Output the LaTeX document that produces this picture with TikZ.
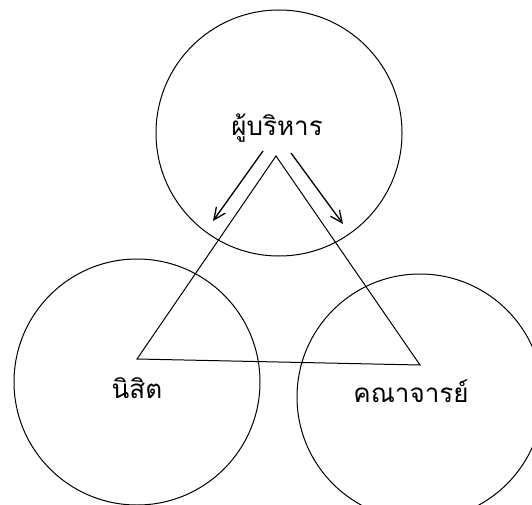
\documentclass[tikz,border=0pt]{standalone}
\usepackage{fontspec}
\newfontfamily\thaifont[Script=Thai]{Loma}
\usetikzlibrary{arrows.meta}
\tikzset{
  ring/.style={draw,circle,minimum size=246pt,inner sep=0pt},
  lbl/.style={font=\thaifont\fontsize{26}{30}\selectfont,inner sep=1pt}
}
\begin{document}
\begin{tikzpicture}[x=1pt,y=-1pt,line width=1pt,>={Straight Barb[length=12pt,width=11pt]}]
 \useasboundingbox (0,0) rectangle (532,505);
 \foreach \n/\cx/\cy in {top/279/133,left/137/382,right/420/397}{
   \node[ring] (c\n) at (\cx,\cy) {};
 }
 \coordinate (ta) at (276,156);
 \coordinate (tb) at (137,359);
 \coordinate (tc) at (420,365);
 \draw (ta) -- (tb) -- (tc) -- cycle;
 \coordinate (la1) at (263,151);
 \coordinate (la2) at (213,221);
 \coordinate (ra1) at (291,153);
 \coordinate (ra2) at (343,224);
 \draw[->,line width=1.3pt] (la1) -- (la2);
 \draw[->,line width=1.3pt] (ra1) -- (ra2);
 \node[lbl] (boss) at (277,128) {ผู้บริหาร};
 \node[lbl] (student) at (137,388) {นิสิต};
 \node[lbl] (staff) at (411,391) {คณาจารย์};
\end{tikzpicture}
\end{document}
